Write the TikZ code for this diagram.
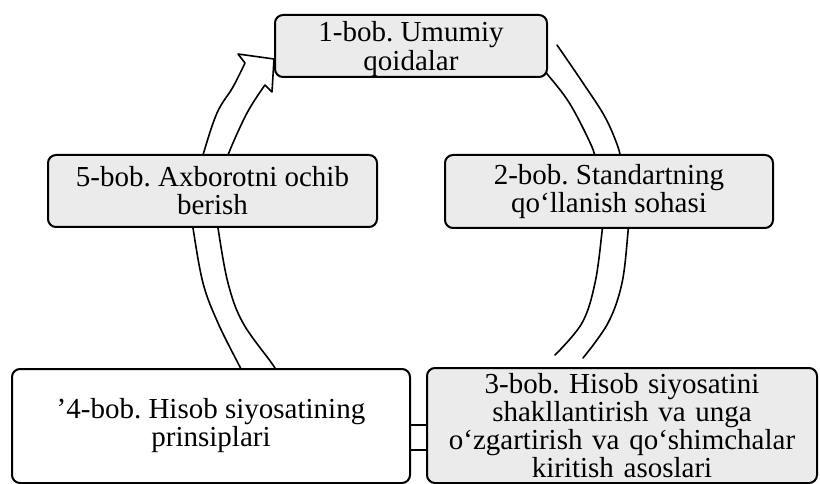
\documentclass[tikz,border=0pt]{standalone}
\usepackage{fontspec}
\setmainfont{Liberation Serif}
\usetikzlibrary{backgrounds}
\begin{document}
\frenchspacing
\begin{tikzpicture}[x=1pt,y=-1pt,
  box/.style={draw=black, line width=2pt, rounded corners=8pt, fill=black!8,
    inner sep=0pt, align=center, font=\fontsize{29}{28}\selectfont},
  whitebox/.style={box, fill=white},
  band/.style={draw=black, line width=1.6pt, line cap=round, line join=round}]
\useasboundingbox (0,0) rectangle (820,484);

\node[box, minimum width=272pt, minimum height=62pt] (b1) at (411,46) {\raisebox{-4pt}[\height][\depth]{\begin{tabular}{@{}c@{}}1-bob. Umumiy\\[0pt]qoidalar\end{tabular}}};
\node[box, minimum width=328pt, minimum height=73pt] (b2) at (609,191.5) {2-bob. Standartning\\qo‘llanish sohasi};
\node[box, minimum width=329pt, minimum height=72pt] (b5) at (212.5,191) {5-bob. Axborotni ochib\\berish};
\node[whitebox, minimum width=398pt, minimum height=114pt] (b4) at (211,426) {’4-bob. Hisob siyosatining\\prinsiplari};
\node[box, minimum width=390pt, minimum height=115pt, text width=388pt] (b3) at (622,425.5)
  {3-bob. Hisob siyosatini\\shakllantirish va unga\\o‘zgartirish va qo‘shimchalar\\kiritish asoslari};

\begin{scope}[on background layer]
  % 1 -> 2
  \draw[band] plot[smooth, tension=0.6] coordinates {(557,45) (583,83) (605,117) (618,147) (621,162)};
  \draw[band] plot[smooth, tension=0.6] coordinates {(540,66) (548,75) (570,104) (592,147) (595,162)};
  % 2 -> 3
  \draw[band] plot[smooth, tension=0.6] coordinates {(603,215) (602,232) (595,283) (582,323) (555,355)};
  \draw[band] plot[smooth, tension=0.6] coordinates {(629,215) (628,232) (622,283) (608,323) (583,358)};
  % 4 -> 5
  \draw[band] plot[smooth, tension=0.6] coordinates {(192,215) (193,228) (203,283) (218,323) (240,367) (246,378)};
  \draw[band] plot[smooth, tension=0.6] coordinates {(217,215) (218,228) (228,283) (243,323) (273,365) (280,378)};
  % 5 -> 1 with hollow arrowhead
  \draw[band] plot[smooth, tension=0.6] coordinates {(200,170) (203,155) (217,113) (233,87) (245,63)}
     -- (238,54) -- (b1.west |- 0,59) -- (272,92) -- (265,85)
     plot[smooth, tension=0.6] coordinates {(265,85) (247,113) (228,155) (225,170)};
\end{scope}

% 4 -- 3
\draw[band] (b4.east |- 0,425) -- (b3.west |- 0,425);
\draw[band] (b4.east |- 0,450) -- (b3.west |- 0,450);
\end{tikzpicture}
\end{document}
